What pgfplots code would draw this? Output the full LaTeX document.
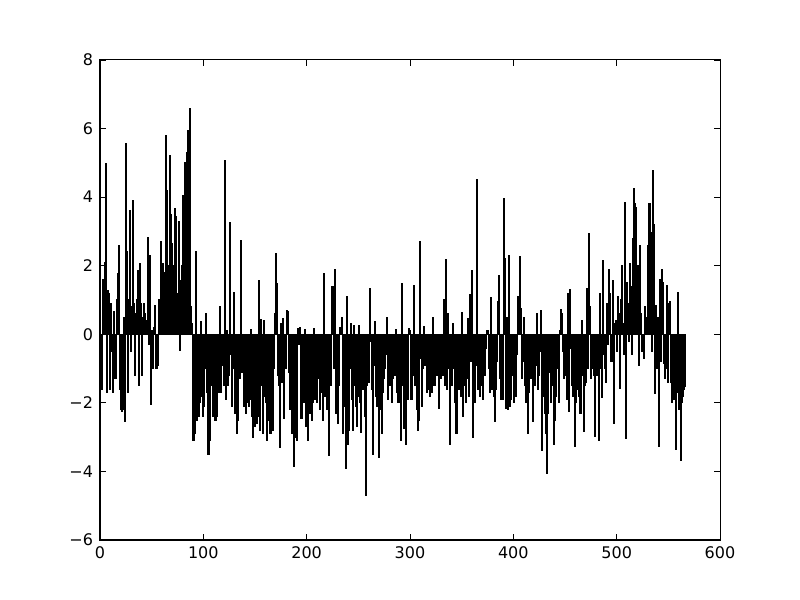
\documentclass[border=0pt]{standalone}
\usepackage{fontspec}
\setmainfont{DejaVu Sans}
\usepackage{pgfplots}
\pgfplotsset{compat=1.18}
\begin{document}
\fontsize{12pt}{14pt}\selectfont
\begin{tikzpicture}
\useasboundingbox (0,0) rectangle (600pt,450pt);
\begin{axis}[
  at={(75pt,45pt)}, anchor=south west,
  scale only axis, width=465pt, height=360pt,
  xmin=0, xmax=600, ymin=-6, ymax=8,
  xtick={0,100,200,300,400,500,600},
  ytick={-6,-4,-2,0,2,4,6,8},
  yticklabels={−6,−4,−2,0,2,4,6,8},
  /pgf/number format/assume math mode=true,
  tick align=inside,
  major tick length=4.2pt,
  tick style={black, line width=0.6pt},
  axis line style={black, line width=0.75pt},
  ticklabel style={font=\fontsize{12pt}{14pt}\selectfont},
  xticklabel style={yshift=-1pt},
  yticklabel style={xshift=-1pt},
  axis on top,
]
\addplot[ybar, bar width=0.8, fill=black, draw=black, line width=0.9pt]
  table[x expr=\coordindex, y index=0, header=false, row sep=\\] {
2.3\\ -0.5\\ -1.6\\ 1.6\\ 1.3\\ 2.1\\ 4.97\\ -1.7\\ 1.28\\ 1.2\\
-1.6\\ 0.9\\ -0.5\\ -1.7\\ 0.65\\ -1.3\\ 1.0\\ 1.77\\ 2.6\\ -1.6\\
-2.2\\ -2.25\\ -2.2\\ 0.5\\ -2.55\\ 5.55\\ 2.4\\ -1.7\\ 1.0\\ 3.6\\
-0.5\\ 0.8\\ 3.9\\ 0.9\\ -1.2\\ 0.6\\ 1.0\\ 1.86\\ -1.5\\ 2.06\\
0.9\\ -1.2\\ 0.5\\ 0.9\\ 0.6\\ 0.4\\ 2.83\\ -0.3\\ 2.3\\ -2.05\\
0.1\\ -1.0\\ 0.2\\ 0.85\\ -1.0\\ -1.0\\ -0.9\\ 1.0\\ 0.3\\ 2.7\\
0.8\\ 2.06\\ 1.3\\ 1.8\\ 5.8\\ 4.2\\ 2.0\\ 1.5\\ 5.2\\ 3.5\\
2.64\\ 2.0\\ 1.0\\ 3.66\\ 3.42\\ 1.2\\ 3.3\\ -0.47\\ 1.57\\ 2.0\\
4.05\\ 3.8\\ 5.0\\ 2.0\\ 5.3\\ 5.94\\ 2.5\\ 6.57\\ 0.8\\ 0.3\\
-3.1\\ -3.1\\ -2.9\\ 2.4\\ -2.5\\ -0.4\\ -2.4\\ -2.0\\ 0.36\\ -1.8\\
-2.4\\ -2.1\\ -1.0\\ 0.6\\ -1.7\\ -3.5\\ -3.1\\ -1.2\\ -1.5\\ -2.4\\
-1.9\\ -2.5\\ -2.5\\ -2.4\\ -0.9\\ -1.7\\ 0.8\\ -1.7\\ -0.5\\ -0.9\\
-1.5\\ 5.07\\ -1.9\\ 0.12\\ -1.5\\ -1.2\\ 3.27\\ -0.6\\ -2.1\\ -1.0\\
1.23\\ -2.3\\ -1.6\\ -2.9\\ -2.5\\ -1.3\\ 2.74\\ -1.1\\ -0.8\\ -2.1\\
-0.8\\ -2.3\\ -2.0\\ -2.0\\ -2.1\\ -1.9\\ 0.14\\ -2.4\\ -3.0\\ -2.3\\
-2.7\\ -1.2\\ -2.6\\ -2.4\\ 1.57\\ -2.8\\ 0.43\\ -1.5\\ -2.9\\ 0.4\\
-1.8\\ -2.0\\ -3.1\\ -1.2\\ -2.5\\ -2.9\\ -1.4\\ -2.8\\ -1.0\\ 0.6\\
2.35\\ 1.47\\ -1.2\\ -1.5\\ -3.3\\ 0.3\\ -1.4\\ 0.46\\ -2.45\\ -0.8\\
-1.0\\ 0.7\\ 0.65\\ -1.1\\ -2.2\\ -1.6\\ -2.9\\ -1.2\\ -3.86\\ -3.0\\
-1.5\\ -3.1\\ 0.17\\ -0.3\\ 0.2\\ -2.45\\ -1.1\\ -2.0\\ 0.14\\ -2.7\\
-1.5\\ -3.1\\ -1.7\\ -2.3\\ -1.2\\ -2.5\\ -2.0\\ 0.18\\ -1.9\\ -0.9\\
-2.0\\ -1.3\\ -1.2\\ -2.2\\ -0.8\\ -1.7\\ -2.5\\ 1.77\\ -1.8\\ -1.4\\
-2.2\\ -1.0\\ -3.52\\ -0.2\\ -1.5\\ 1.4\\ -1.0\\ 1.9\\ -2.3\\ -0.9\\
-2.6\\ -1.5\\ 0.2\\ 0.15\\ 0.5\\ -2.9\\ -1.5\\ -2.1\\ -3.9\\ 1.1\\
-3.2\\ -2.8\\ -1.0\\ 0.3\\ -1.9\\ -2.8\\ 0.25\\ -1.5\\ -2.1\\ -2.7\\
-1.8\\ 0.26\\ -2.0\\ -2.85\\ -1.3\\ -1.6\\ -2.4\\ -4.7\\ -1.5\\ -1.2\\
-1.4\\ 1.33\\ -0.2\\ -1.6\\ -3.5\\ -0.9\\ 0.36\\ -1.8\\ -2.1\\ -1.2\\
-3.6\\ -2.2\\ -1.0\\ -2.9\\ -1.7\\ -1.3\\ -1.0\\ -0.6\\ 0.49\\ -1.9\\
-1.4\\ -1.5\\ -0.9\\ -2.0\\ -1.3\\ -1.2\\ 0.14\\ -1.7\\ -2.0\\ -1.2\\
-2.0\\ -3.1\\ 1.48\\ -1.5\\ -2.75\\ -1.4\\ -3.2\\ -1.8\\ -1.9\\ 0.16\\
0.12\\ -1.9\\ -1.9\\ -1.2\\ 1.43\\ -1.5\\ -1.4\\ -2.2\\ -2.8\\ -2.5\\
2.7\\ -0.7\\ -2.1\\ -1.0\\ 0.23\\ -0.9\\ -1.7\\ -1.5\\ -1.6\\ -1.8\\
-1.3\\ -1.7\\ 0.49\\ -1.5\\ -1.5\\ -0.8\\ -1.2\\ -1.0\\ -2.17\\ -1.3\\
-1.3\\ -0.5\\ -1.2\\ 1.0\\ -1.5\\ 2.17\\ -1.6\\ 0.6\\ -1.0\\ -3.2\\
-0.8\\ -1.5\\ 0.3\\ -1.0\\ -2.0\\ -2.9\\ -1.2\\ -1.6\\ -0.5\\ -1.8\\
0.63\\ -2.4\\ -1.0\\ -1.5\\ -2.0\\ -1.3\\ 0.46\\ -1.8\\ 1.17\\ -0.8\\
1.86\\ -3.0\\ -1.2\\ -2.0\\ -0.9\\ 4.5\\ -1.6\\ -1.5\\ -1.8\\ -0.7\\
-1.5\\ -1.9\\ -0.6\\ -1.2\\ -0.4\\ 0.12\\ -1.0\\ -1.7\\ 1.08\\ -1.6\\
-1.5\\ -1.8\\ -2.55\\ -1.6\\ -0.8\\ 0.94\\ 1.72\\ -1.3\\ -1.9\\ -0.8\\
-1.9\\ 3.95\\ 2.2\\ -2.17\\ 0.5\\ -2.2\\ 2.3\\ -2.1\\ -1.9\\ -0.9\\
-1.2\\ -2.0\\ -1.5\\ -1.8\\ -0.6\\ 1.1\\ 2.27\\ 0.75\\ -1.3\\ -0.8\\
0.5\\ -1.5\\ -2.0\\ -1.1\\ -2.9\\ -1.7\\ -0.8\\ -1.3\\ -1.1\\ -2.55\\
-1.0\\ -1.5\\ -0.9\\ 0.6\\ -1.6\\ -1.2\\ -0.5\\ 0.68\\ -3.4\\ -1.8\\
-1.2\\ -2.3\\ -2.9\\ -4.05\\ -2.3\\ -1.1\\ -2.0\\ -0.5\\ -1.5\\ -3.2\\
-2.5\\ -1.8\\ -0.9\\ -1.0\\ -2.0\\ 0.1\\ 0.72\\ 0.6\\ -0.5\\ -1.3\\
-0.8\\ -1.2\\ -1.9\\ 1.18\\ -2.26\\ 1.3\\ -0.4\\ -1.5\\ -1.8\\ -1.2\\
-3.28\\ -2.0\\ -1.6\\ -1.0\\ -1.8\\ -2.3\\ 0.4\\ -1.2\\ -2.84\\ -1.5\\
-1.4\\ 1.33\\ -1.0\\ 2.93\\ 0.8\\ -1.3\\ -0.6\\ -1.0\\ -1.2\\ -2.98\\
-1.2\\ -0.5\\ -1.2\\ -3.1\\ 1.18\\ -1.0\\ -1.83\\ 2.15\\ -0.6\\ -1.0\\
-1.4\\ 0.9\\ -0.3\\ 1.9\\ 1.2\\ -0.8\\ 1.57\\ -2.6\\ 0.3\\ 0.4\\
-0.5\\ 1.1\\ 0.6\\ -1.58\\ 1.0\\ 2.0\\ 0.3\\ -0.6\\ 3.85\\ -3.04\\
1.5\\ 0.9\\ -0.2\\ 2.05\\ 1.4\\ -0.6\\ 2.8\\ 4.24\\ 3.8\\ 3.7\\
1.5\\ 2.0\\ -0.9\\ 2.6\\ 0.6\\ -0.5\\ -0.7\\ 0.8\\ 0.5\\ 0.43\\
2.6\\ 3.8\\ 3.8\\ 2.98\\ -0.5\\ 4.78\\ 3.2\\ -1.73\\ 0.85\\ -1.0\\
0.5\\ -3.28\\ 1.6\\ -0.8\\ 1.88\\ 1.5\\ -0.85\\ -1.3\\ -1.0\\ 1.42\\
-1.4\\ 0.9\\ 0.96\\ -1.4\\ -2.0\\ -1.9\\ -1.6\\ -3.36\\ -1.7\\ 1.23\\
-2.2\\ -1.6\\ -3.69\\ -2.0\\ -1.8\\ -1.6\\ -1.53\\
};
\end{axis}
\end{tikzpicture}
\end{document}
